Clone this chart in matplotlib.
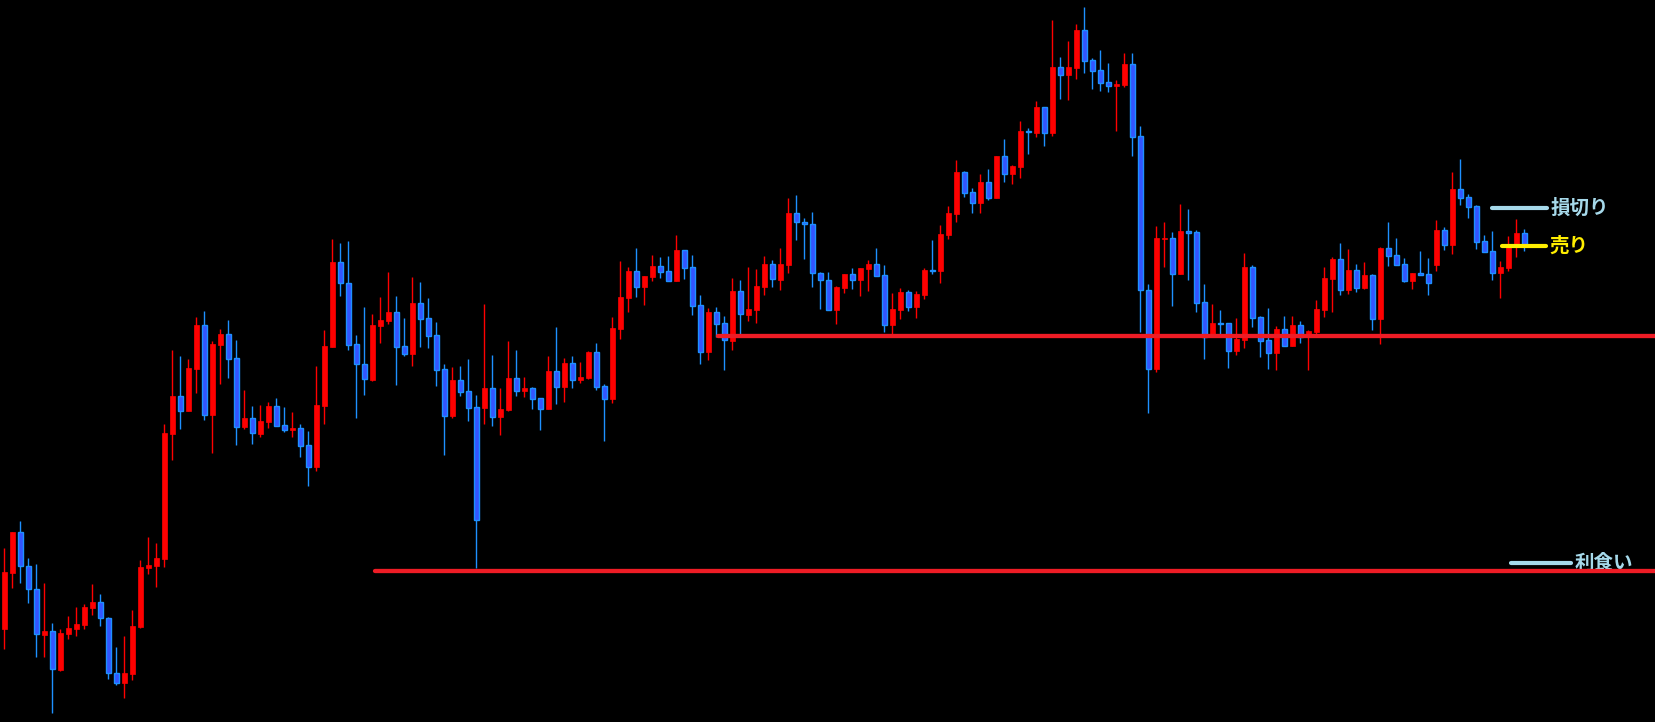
import numpy as np
import matplotlib
matplotlib.use("Agg")
import matplotlib.pyplot as plt

plt.rcParams['font.family'] = ['Noto Sans CJK JP', 'DejaVu Sans']

# OHLC (arbitrary price units)
opens = [93, 149, 190, 156, 133, 87, 91, 52, 88, 93,
         97, 114, 120, 104, 49, 39, 48, 95, 154, 156,
         163, 288, 326, 311, 353, 397, 307, 377, 388, 364,
         295, 304, 288, 300, 316, 297, 292, 294, 277, 255,
         316, 375, 460, 439, 378, 358, 342, 396, 401, 410,
         376, 368, 419, 404, 387, 353, 306, 342, 331, 315,
         314, 334, 305, 312, 344, 331, 334, 324, 313, 351,
         335, 359, 342, 344, 370, 336, 323, 393, 424, 451,
         435, 445, 456, 451, 441, 472, 455, 417, 370, 410,
         399, 381, 431, 407, 412, 435, 458, 442, 457, 509,
         500, 498, 449, 442, 412, 434, 448, 442, 453, 458,
         447, 397, 412, 430, 415, 427, 452, 451, 487, 508,
         550, 530, 519, 540, 524, 566, 548, 555, 591, 589,
         615, 589, 655, 647, 654, 692, 662, 652, 640, 636,
         637, 658, 586, 432, 353, 483, 484, 448, 491, 490,
         420, 386, 399, 399, 371, 382, 455, 405, 382, 369,
         393, 376, 397, 387, 390, 412, 443, 463, 432, 452,
         434, 447, 403, 474, 467, 458, 441, 449, 448, 457,
         492, 477, 533, 525, 516, 481, 471, 449, 454, 477,
         489]
highs = [174, 190, 201, 164, 158, 139, 99, 93, 106, 115,
         118, 138, 128, 105, 75, 86, 112, 162, 185, 179,
         298, 372, 366, 363, 405, 411, 381, 393, 402, 382,
         332, 316, 317, 320, 324, 315, 310, 298, 291, 356,
         392, 483, 479, 481, 387, 415, 408, 425, 450, 426,
         404, 445, 440, 424, 400, 358, 355, 356, 363, 327,
         418, 367, 334, 381, 372, 345, 335, 324, 366, 395,
         364, 366, 360, 371, 379, 338, 405, 461, 455, 474,
         446, 467, 465, 466, 487, 472, 467, 427, 414, 415,
         406, 444, 442, 455, 453, 466, 462, 474, 524, 527,
         504, 510, 450, 450, 436, 448, 454, 454, 462, 474,
         457, 429, 434, 432, 431, 454, 482, 497, 516, 562,
         551, 534, 548, 553, 566, 583, 557, 601, 594, 621,
         615, 702, 665, 681, 698, 715, 664, 672, 659, 642,
         669, 669, 596, 438, 496, 500, 490, 518, 513, 492,
         438, 418, 412, 399, 404, 469, 457, 406, 414, 396,
         406, 406, 401, 392, 422, 455, 465, 479, 473, 458,
         460, 448, 475, 500, 484, 464, 449, 471, 464, 502,
         495, 550, 563, 528, 517, 487, 491, 461, 486, 503,
         493]
lows = [73, 134, 139, 119, 65, 65, 9, 51, 83, 86,
        93, 107, 96, 43, 37, 24, 42, 94, 148, 135,
        155, 262, 293, 311, 329, 302, 269, 338, 344, 277,
        293, 278, 285, 294, 296, 290, 285, 265, 236, 251,
        298, 375, 426, 372, 304, 327, 341, 379, 398, 337,
        366, 356, 375, 374, 336, 267, 304, 326, 301, 154,
        298, 296, 287, 311, 326, 325, 313, 292, 313, 318,
        320, 334, 339, 343, 332, 281, 319, 383, 410, 425,
        417, 441, 444, 441, 441, 443, 407, 358, 362, 385,
        352, 372, 388, 401, 399, 427, 435, 432, 449, 482,
        463, 435, 413, 412, 398, 429, 433, 426, 431, 446,
        390, 387, 403, 411, 404, 423, 448, 439, 483, 500,
        525, 509, 509, 522, 524, 540, 538, 544, 568, 585,
        576, 586, 623, 622, 643, 649, 633, 631, 630, 591,
        635, 566, 390, 309, 350, 455, 416, 448, 442, 410,
        363, 385, 385, 354, 367, 374, 395, 365, 353, 352,
        376, 376, 379, 352, 387, 405, 410, 427, 428, 430,
        433, 392, 378, 456, 457, 440, 433, 447, 427, 451,
        472, 468, 517, 504, 473, 470, 442, 424, 451, 465,
        471]
closes = [150, 190, 156, 133, 88, 91, 53, 89, 94, 98,
          115, 120, 104, 49, 39, 49, 96, 155, 157, 164,
          289, 326, 311, 354, 397, 307, 378, 388, 363, 295,
          304, 289, 301, 316, 296, 292, 294, 276, 255, 317,
          376, 460, 439, 377, 358, 343, 397, 402, 410, 375,
          368, 419, 403, 386, 352, 306, 342, 330, 314, 202,
          334, 305, 313, 344, 331, 334, 323, 313, 351, 335,
          359, 342, 345, 370, 335, 323, 394, 425, 451, 435,
          446, 456, 450, 441, 472, 454, 416, 370, 410, 398,
          382, 431, 408, 413, 436, 458, 443, 458, 509, 500,
          498, 449, 442, 412, 435, 448, 442, 454, 458, 446,
          397, 413, 430, 415, 428, 452, 451, 488, 509, 550,
          529, 519, 540, 524, 566, 548, 556, 591, 590, 615,
          589, 655, 647, 655, 692, 661, 651, 639, 636, 638,
          658, 585, 432, 353, 484, 484, 448, 491, 489, 419,
          385, 399, 398, 371, 383, 455, 404, 381, 369, 393,
          376, 397, 385, 391, 413, 444, 463, 432, 452, 434,
          447, 403, 474, 466, 457, 441, 449, 447, 439, 492,
          477, 533, 524, 515, 480, 470, 449, 455, 476, 489,
          477]

# horizontal levels
support_level = 386.5
support_start = 89.2
lower_level = 151.5
lower_start = 46.3

labels = ['損切り', '売り', '利食い']
label_levels = [514, 476, 158.7]
label_colors = ['#a6d9ea', '#ffee00', '#a6d9ea']
label_x = [(186.0, 192.8), (187.2, 192.7), (188.4, 195.8)]

o = np.array(opens, dtype=float)
h = np.array(highs, dtype=float)
l = np.array(lows, dtype=float)
c = np.array(closes, dtype=float)
x = np.arange(len(o))
up = c >= o

fig = plt.figure(figsize=(16.56, 7.22), dpi=100, facecolor='black')
ax = fig.add_axes([0, 0, 1, 1])
ax.set_facecolor('black')

# wicks
ax.vlines(x[up], l[up], h[up], color='#ff0000', linewidth=1.0, zorder=2)
ax.vlines(x[~up], l[~up], h[~up], color='#1e90ff', linewidth=1.0, zorder=2)

# bodies
bottom = np.minimum(o, c)
height = np.maximum(np.abs(c - o), 1.5)
ax.bar(x[up], height[up], bottom=bottom[up], width=0.6, color='#ff0000',
       edgecolor='#ff0000', linewidth=0.5, zorder=3)
ax.bar(x[~up], height[~up], bottom=bottom[~up], width=0.6, color='#3355ff',
       edgecolor='#1e90ff', linewidth=1.0, zorder=3)

xmax = (1656 - 4.3) / 8
# red horizontal lines
ax.plot([support_start, xmax], [support_level, support_level], color='#ee1c25',
        linewidth=3.1, solid_capstyle='round', zorder=6)
ax.plot([lower_start, xmax], [lower_level, lower_level], color='#ee1c25',
        linewidth=3.1, solid_capstyle='round', zorder=6)

# order labels
for txt, lev, col, (x0, x1) in zip(labels, label_levels, label_colors, label_x):
    ax.plot([x0, x1], [lev, lev], color=col, linewidth=3.0,
            solid_capstyle='round', zorder=4)
    ax.text(x1 + 0.5, lev, txt, color=col, fontsize=14, fontweight='bold',
            va='center', ha='left', zorder=5)

ax.set_xlim(-4.3 / 8, xmax)
ax.set_ylim(0, 722)
ax.axis('off')

fig.savefig('out.png', dpi=100, facecolor='black')
